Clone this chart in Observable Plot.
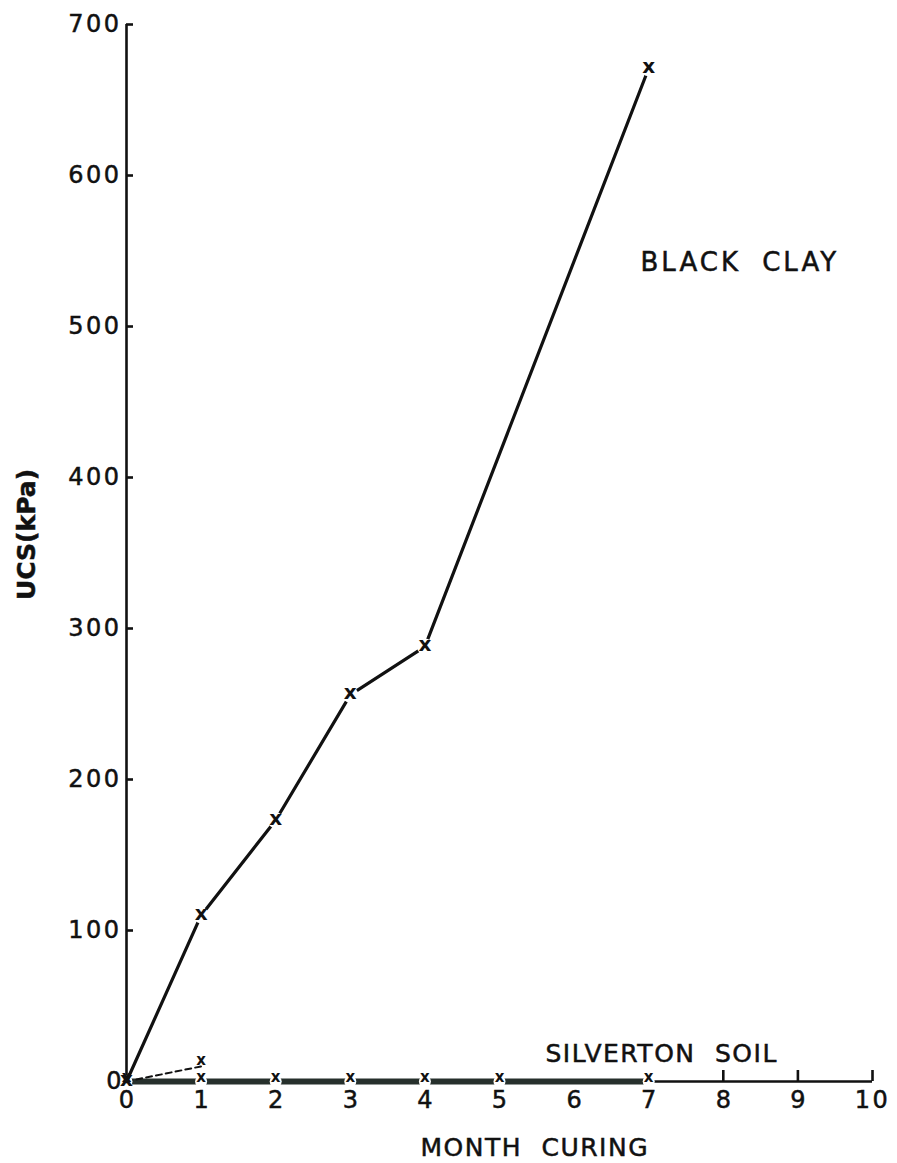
<!DOCTYPE html>
<html>
<head>
<meta charset="utf-8">
<script src="https://cdn.jsdelivr.net/npm/d3@7"></script>
<script src="https://cdn.jsdelivr.net/npm/@observablehq/plot@0.6"></script>
<style>
  html, body { margin: 0; padding: 0; background: #fff; }
  #chart svg { display: block; }
</style>
</head>
<body>
<div id="chart"></div>
<script>
// ---- data ----
const clayMonths = [0, 1, 2, 3, 4, 7];
const clayUCS = [0, 110, 173, 256, 288, 671];
const silvertonMonths = [0, 1, 2, 3, 4, 5, 7];
const silvertonUCS = [0, 0, 0, 0, 0, 0, 0];
const dashedMonths = [0, 1];
const dashedUCS = [0, 10];
const xTicks = [0, 1, 2, 3, 4, 5, 6, 7, 8, 9, 10];
const xTickMarks = [8, 9, 10];
const yTicks = [0, 100, 200, 300, 400, 500, 600, 700];
const clayLabel = "BLACK CLAY";
const silvertonLabel = "SILVERTON SOIL";
const xLabel = "MONTH CURING";
const yLabel = "UCS(kPa)";

const clay = clayMonths.map((m, i) => ({month: m, ucs: clayUCS[i]}));
const silverton = silvertonMonths.map((m, i) => ({month: m, ucs: silvertonUCS[i]}));
const dashed = dashedMonths.map((m, i) => ({month: m, ucs: dashedUCS[i]}));

const font = "'DejaVu Sans', sans-serif";
const ML = 126, MT = 24;

const chart = Plot.plot({
  width: 897,
  height: 1163,
  marginLeft: ML,
  marginRight: 25,
  marginTop: MT,
  marginBottom: 82,
  style: {fontFamily: font, background: "#fff", color: "#111"},
  x: {domain: [0, 10]},
  y: {domain: [0, 700]},
  marks: [
    // axis lines
    Plot.ruleX([0], {y1: 0, y2: 700, stroke: "#111", strokeWidth: 2.6}),
    Plot.ruleY([0], {x1: 0, x2: 10, stroke: "#111", strokeWidth: 2.6}),
    // y axis: inward ticks + labels
    Plot.axisY({ticks: yTicks, tickSize: 0, tickPadding: 5, fontSize: 24, label: null, stroke: "none"}),
    Plot.axisY({ticks: yTicks, tickSize: -7, text: null, label: null, strokeWidth: 2.6, stroke: "#111"}),
    Plot.text([yLabel], {frameAnchor: "left", dx: -100, dy: 47, rotate: -90, fontSize: 25, fontWeight: "bold", fill: "#111"}),
    // x axis: labels + upward ticks
    Plot.axisX({ticks: xTicks, tickSize: 0, tickPadding: 9, fontSize: 24, label: null, stroke: "none"}),
    Plot.axisX({ticks: xTickMarks, tickSize: -11, text: null, label: null, strokeWidth: 2.6, stroke: "#111"}),
    Plot.text([xLabel], {frameAnchor: "bottom-left", dx: 420 - ML, dy: 1147 - 1081, textAnchor: "start", lineAnchor: "middle", fontSize: 25, fill: "#111"}),
    // Silverton soil: thick band along axis
    Plot.line(silverton, {x: "month", y: "ucs", stroke: "#26302c", strokeWidth: 6, strokeLinecap: "butt"}),
    Plot.line(dashed, {x: "month", y: "ucs", stroke: "#111", strokeWidth: 2, strokeDasharray: "6,4"}),
    Plot.dot(silverton, {x: "month", y: "ucs", r: 6, fill: "#fff", stroke: "none"}),
    Plot.text(silverton, {x: "month", y: "ucs", text: () => "x", fontSize: 15, dy: -4, fill: "#111", fontWeight: "bold"}),
    Plot.text(dashed.slice(1), {x: "month", y: "ucs", text: () => "x", fontSize: 15, dy: -6, fill: "#111", fontWeight: "bold"}),
    // Black clay
    Plot.line(clay, {x: "month", y: "ucs", stroke: "#111", strokeWidth: 3.2}),
    Plot.dot(clay.slice(1), {x: "month", y: "ucs", r: 8, fill: "#fff", stroke: "none"}),
    Plot.text(clay, {x: "month", y: "ucs", text: () => "x", fontSize: 20, dy: -2, fill: "#111", fontWeight: "bold"}),
    // annotations
    Plot.text([clayLabel], {frameAnchor: "top-left", dx: 640 - ML, dy: 262 - MT, textAnchor: "start", lineAnchor: "middle", fontSize: 26, fill: "#111"}),
    Plot.text([silvertonLabel], {frameAnchor: "bottom-left", dx: 545 - ML, dy: 1053 - 1081, textAnchor: "start", lineAnchor: "middle", fontSize: 25, fill: "#111"})
  ]
});

// letter/word spacing and a slightly heavier stroke to match the hand lettering
const spacing = new Map([[clayLabel, ["3px", "10px"]], [silvertonLabel, ["1.5px", "10px"]], [xLabel, ["1.5px", "10px"]]]);
d3.select(chart).selectAll("text").each(function () {
  const t = this.textContent;
  if (spacing.has(t)) {
    const [ls, ws] = spacing.get(t);
    this.setAttribute("letter-spacing", ls);
    this.setAttribute("word-spacing", ws);
  } else if (/^\d+$/.test(t) && t.length >= 2) {
    this.setAttribute("letter-spacing", "2.5px");
  }
  if (t !== "x") {
    this.setAttribute("stroke", "#111");
    this.setAttribute("stroke-width", "0.5");
  }
});
document.getElementById("chart").appendChild(chart);
</script>
</body>
</html>
